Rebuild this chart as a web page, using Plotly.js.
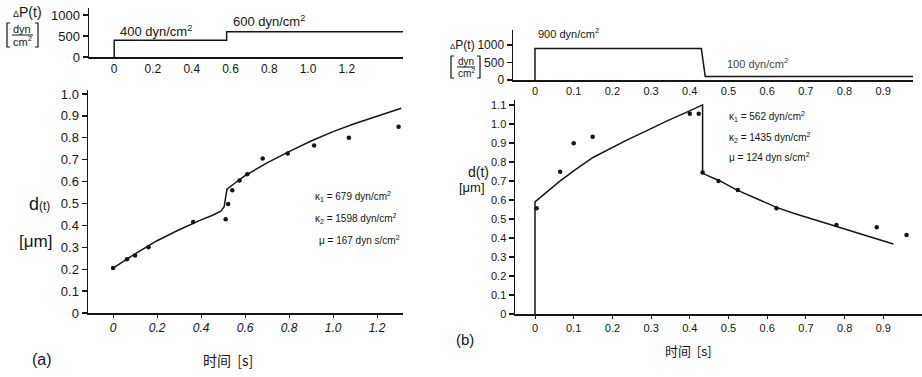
<!DOCTYPE html>
<html><head><meta charset="utf-8">
<script src="https://cdn.plot.ly/plotly-3.0.1.min.js"></script>
<style>html,body{margin:0;padding:0;background:#fff}</style>
</head><body><div id="chart" style="width:922px;height:377px"></div>
<script>
// ---------------- data ----------------
// Panel (a): applied pressure step  [s], [dyn/cm²]
const aPressT = [0, 0, 0.58, 0.58, 1.49];
const aPressP = [0, 400, 400, 600, 600];
// Panel (a): model curve d(t) [µm]
const aModelT = [0, 0.1, 0.2, 0.3, 0.4, 0.45, 0.49, 0.505, 0.512, 0.518, 0.55, 0.6, 0.7, 0.8, 0.9, 1.0, 1.1, 1.2, 1.31];
const aModelD = [0.205, 0.27, 0.33, 0.38, 0.425, 0.445, 0.465, 0.485, 0.53, 0.565, 0.59, 0.627, 0.685, 0.737, 0.785, 0.828, 0.865, 0.9, 0.935];
// Panel (a): measured points
const aObsT = [0, 0.063, 0.1, 0.161, 0.364, 0.512, 0.523, 0.542, 0.575, 0.61, 0.68, 0.794, 0.914, 1.072, 1.298];
const aObsD = [0.205, 0.245, 0.262, 0.3, 0.415, 0.428, 0.498, 0.56, 0.605, 0.633, 0.705, 0.728, 0.765, 0.8, 0.85];
// Panel (b): applied pressure step
const bPressT = [0, 0, 0.43, 0.44, 0.977];
const bPressP = [0, 900, 900, 100, 100];
// Panel (b): model curve
const bModelT = [0, 0, 0.065, 0.108, 0.151, 0.237, 0.289, 0.34, 0.401, 0.433, 0.433, 0.478, 0.521, 0.581, 0.624, 0.668, 0.779, 0.84, 0.883, 0.926];
const bModelD = [0, 0.59, 0.70, 0.765, 0.825, 0.915, 0.965, 1.015, 1.07, 1.10, 0.74, 0.70, 0.653, 0.60, 0.561, 0.53, 0.46, 0.425, 0.398, 0.368];
// Panel (b): measured points
const bObsT = [0.004, 0.065, 0.10, 0.149, 0.40, 0.423, 0.433, 0.474, 0.524, 0.624, 0.779, 0.883, 0.96];
const bObsD = [0.556, 0.749, 0.898, 0.933, 1.053, 1.053, 0.744, 0.70, 0.653, 0.556, 0.468, 0.456, 0.416];
// tick labels
const aTopXTicks = [0, 0.2, 0.4, 0.6, 0.8, 1.0, 1.2];
const aTopXText = ['0', '0.2', '0.4', '0.6', '0.8', '1.0', '1.2'];
const pTicks = [0, 500, 1000];
const pText = ['0', '500', '1000'];
const aYTicks = [0, 0.1, 0.2, 0.3, 0.4, 0.5, 0.6, 0.7, 0.8, 0.9, 1.0];
const aYText = ['0', '0.1', '0.2', '0.3', '0.4', '0.5', '0.6', '0.7', '0.8', '0.9', '1.0'];
const bXTicks = [0, 0.1, 0.2, 0.3, 0.4, 0.5, 0.6, 0.7, 0.8, 0.9];
const bXText = ['0', '0.1', '0.2', '0.3', '0.4', '0.5', '0.6', '0.7', '0.8', '0.9'];
const bYTicks = [0, 0.1, 0.2, 0.3, 0.4, 0.5, 0.6, 0.7, 0.8, 0.9, 1.0, 1.1];
const bYText = ['0', '0.1', '0.2', '0.3', '0.4', '0.5', '0.6', '0.7', '0.8', '0.9', '1.0', '1.1'];

// ---------------- layout helpers ----------------
const W = 922, H = 377;
const px = x => x / W, py = y => 1 - y / H;
const INK = '#151515';
const FAM = '"Liberation Sans", Arial, sans-serif';
const CJK = '"Noto Sans CJK SC", sans-serif';

function xa(domain, range, tv, tt, size, anchor, italic, ticks) {
  return {domain: domain, range: range, anchor: anchor, tickvals: tv, ticktext: tt,
    showline: true, linecolor: INK, linewidth: 1.5, showgrid: false, zeroline: false,
    ticks: ticks ? 'outside' : '', ticklen: 3, tickcolor: INK, fixedrange: true,
    tickfont: {family: FAM, size: size, color: INK, style: italic ? 'italic' : 'normal'}};
}
function ya(domain, range, tv, tt, size, anchor) {
  return {domain: domain, range: range, anchor: anchor, tickvals: tv, ticktext: tt,
    showline: true, linecolor: INK, linewidth: 1.5, showgrid: false, zeroline: false,
    ticks: 'outside', ticklen: 5, tickwidth: 1.3, tickcolor: INK, fixedrange: true,
    tickfont: {family: FAM, size: size, color: INK}};
}

const lineStyle = {color: INK, width: 1.5};
const dotStyle = {color: INK, size: 4.5};
const traces = [
  {x: aPressT, y: aPressP, xaxis: 'x', yaxis: 'y', mode: 'lines', line: lineStyle, hoverinfo: 'skip'},
  {x: aModelT, y: aModelD, xaxis: 'x2', yaxis: 'y2', mode: 'lines', line: lineStyle, hoverinfo: 'skip'},
  {x: aObsT, y: aObsD, xaxis: 'x2', yaxis: 'y2', mode: 'markers', marker: dotStyle, hoverinfo: 'skip'},
  {x: bPressT, y: bPressP, xaxis: 'x3', yaxis: 'y3', mode: 'lines', line: lineStyle, hoverinfo: 'skip'},
  {x: bModelT, y: bModelD, xaxis: 'x4', yaxis: 'y4', mode: 'lines', line: lineStyle, hoverinfo: 'skip'},
  {x: bObsT, y: bObsD, xaxis: 'x4', yaxis: 'y4', mode: 'markers', marker: dotStyle, hoverinfo: 'skip'}
];

function txt(x, y, text, size, opts) {
  return Object.assign({xref: 'paper', yref: 'paper', x: px(x), y: py(y), text: text,
    showarrow: false, xanchor: 'center', yanchor: 'middle',
    font: {family: FAM, size: size, color: INK}}, opts || {});
}

const annotations = [
  // panel (a) top
  txt(27, 12, '<span style="font-size:9px">Δ</span>P(t)', 14),
  txt(22, 29, 'dyn', 11),
  txt(22, 41, 'cm<sup>2</sup>', 11),
  txt(118, 31, '400 dyn/cm<sup>2</sup>', 13, {xanchor: 'left'}),
  txt(231, 21, '600 dyn/cm<sup>2</sup>', 13, {xanchor: 'left'}),
  // panel (a) main
  txt(39, 204, 'd<span style="font-size:12px">(t)</span>', 18),
  txt(35, 241, '[μm]', 17),
  txt(313, 196, 'κ<sub>1</sub> = 679 dyn/cm<sup>2</sup>', 10, {xanchor: 'left'}),
  txt(313, 218, 'κ<sub>2</sub> = 1598 dyn/cm<sup>2</sup>', 10, {xanchor: 'left'}),
  txt(317, 240, 'μ = 167 dyn s/cm<sup>2</sup>', 10, {xanchor: 'left'}),
  txt(42, 359, '(a)', 16),
  txt(228, 360, '时间  [s]', 14, {font: {family: CJK, size: 14, color: INK}}),
  // panel (b) top
  txt(463, 45, '<span style="font-size:8px">Δ</span>P(t)', 12),
  txt(466, 61, 'dyn', 10),
  txt(466, 73, 'cm<sup>2</sup>', 10),
  txt(536, 33, '900 dyn/cm<sup>2</sup>', 11, {xanchor: 'left'}),
  txt(725, 63, '100 dyn/cm<sup>2</sup>', 11, {xanchor: 'left', font: {family: FAM, size: 11, color: '#444'}}),
  // panel (b) main
  txt(478, 172, 'd(t)', 14),
  txt(472, 188, '[μm]', 13),
  txt(727, 117, 'κ<sub>1</sub> = 562 dyn/cm<sup>2</sup>', 10, {xanchor: 'left'}),
  txt(727, 137, 'κ<sub>2</sub> = 1435 dyn/cm<sup>2</sup>', 10, {xanchor: 'left'}),
  txt(727, 157, 'μ = 124 dyn s/cm<sup>2</sup>', 10, {xanchor: 'left'}),
  txt(465, 339, '(b)', 15),
  txt(688, 350, '时间  [s]', 13, {font: {family: CJK, size: 13, color: INK}})
];

function pline(x0, y0, x1, y1) {
  return {type: 'line', xref: 'paper', yref: 'paper', x0: px(x0), x1: px(x1), y0: py(y0), y1: py(y1), line: {color: INK, width: 1}};
}
function bracket(x, y0, y1, dir) {
  const p = 'M ' + px(x + 3 * dir) + ' ' + py(y0) + ' L ' + px(x) + ' ' + py(y0) + ' L ' + px(x) + ' ' + py(y1) + ' L ' + px(x + 3 * dir) + ' ' + py(y1);
  return {type: 'path', xref: 'paper', yref: 'paper', path: p, line: {color: INK, width: 1.2}};
}
const shapes = [
  pline(12, 35, 33, 35),
  bracket(7, 23, 47, 1),
  bracket(38, 23, 47, -1),
  pline(457, 67, 475, 67),
  bracket(451, 56, 78, 1),
  bracket(480, 56, 78, -1)
];

const layout = {
  width: W, height: H, margin: {l: 0, r: 0, t: 0, b: 0},
  paper_bgcolor: '#fff', plot_bgcolor: 'rgba(0,0,0,0)', showlegend: false,
  xaxis: xa([px(89), px(403)], [-0.13, 1.49], aTopXTicks, aTopXText, 12, 'y', false, false),
  yaxis: ya([py(57), py(8)], [0, 1170], pTicks, pText, 13, 'x'),
  xaxis2: xa([px(88), px(403)], [-0.114, 1.318], aTopXTicks, aTopXText, 12, 'y2', true, true),
  yaxis2: ya([py(313), py(90)], [0, 1.018], aYTicks, aYText, 13, 'x2'),
  xaxis3: xa([px(513), px(913)], [-0.0568, 0.977], bXTicks, bXText, 11, 'y3', false, false),
  yaxis3: ya([py(80), py(30)], [0, 1430], pTicks, pText, 12, 'x3'),
  xaxis4: xa([px(515), px(922)], [-0.0517, 1.0], bXTicks, bXText, 11, 'y4', false, true),
  yaxis4: ya([py(314), py(100)], [0, 1.126], bYTicks, bYText, 11, 'x4'),
  annotations: annotations,
  shapes: shapes
};

Plotly.newPlot('chart', traces, layout, {displayModeBar: false, staticPlot: true});
</script>
</body></html>
